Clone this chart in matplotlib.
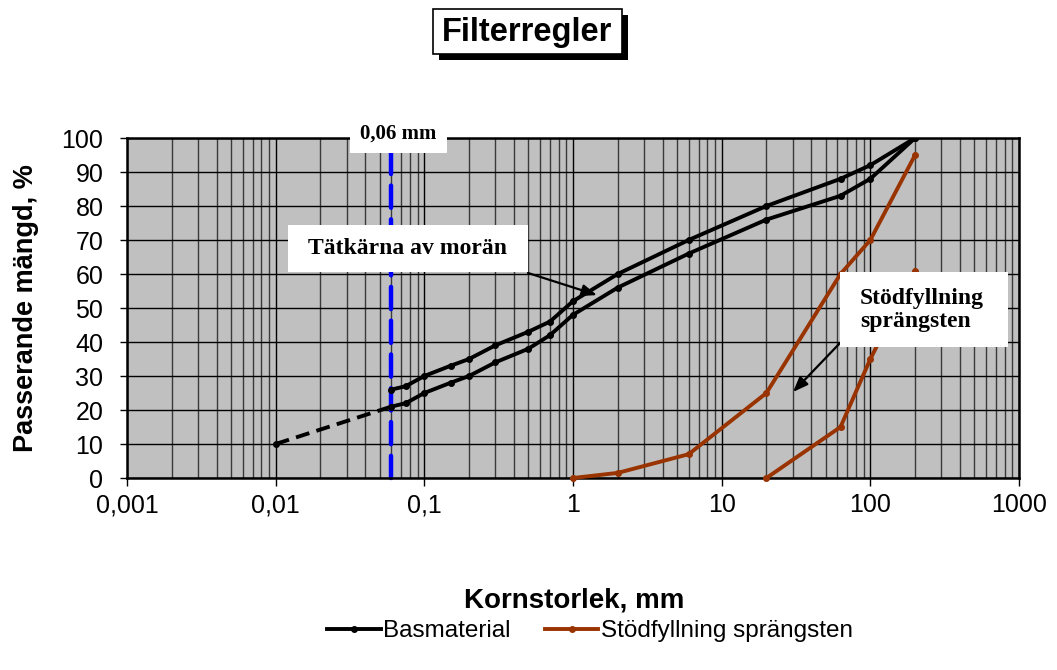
import matplotlib
matplotlib.use("Agg")
import matplotlib.pyplot as plt
from matplotlib.patches import Rectangle
from matplotlib.ticker import FixedLocator, LogLocator, NullFormatter

# ---- data ----
bas_upper_x = [0.06, 0.075, 0.1, 0.15, 0.2, 0.3, 0.5, 0.7, 1.0, 2, 6, 20, 63, 100, 200]
bas_upper_y = [26, 27, 30, 33, 35, 39, 43, 46, 52, 60, 70, 80, 88, 92, 100]
bas_lower_x = [0.06, 0.075, 0.1, 0.15, 0.2, 0.3, 0.5, 0.7, 1.0, 2, 6, 20, 63, 100, 200]
bas_lower_y = [21, 22, 25, 28, 30, 34, 38, 42, 48, 56, 66, 76, 83, 88, 100]
bas_ext_x = [0.01, 0.06]
bas_ext_y = [10, 21]
stod_fine_x = [1, 2, 6, 20, 63, 100, 200]
stod_fine_y = [0, 1.5, 7, 25, 60, 70, 95]
stod_coarse_x = [20, 63, 100, 200]
stod_coarse_y = [0, 15, 35, 61]
limit_x = [0.06, 0.06]
limit_y = [0, 100]

xticks = [0.001, 0.01, 0.1, 1, 10, 100, 1000]
xtick_labels = ["0,001", "0,01", "0,1", "1", "10", "100", "1000"]
yticks = list(range(0, 101, 10))

title = "Filterregler"
xlabel = "Kornstorlek, mm"
ylabel = "Passerande mängd, %"
series_names = ["Basmaterial", "Stödfyllning sprängsten"]
limit_label = "0,06 mm"
core_label = "Tätkärna av morän"
fill_label = "Stödfyllning\nsprängsten"

BLACK = "black"
BROWN = "#993300"
BLUE = "#0000FF"

W, H = 1057, 670
fig = plt.figure(figsize=(W / 100, H / 100), dpi=100)
fig.patch.set_facecolor("white")


def fx(px):
    return px / W


def fy(py):
    return 1 - py / H


def box(x0, y0, x1, y1, **kw):
    fig.add_artist(Rectangle((fx(x0), fy(y1)), fx(x1) - fx(x0), fy(y0) - fy(y1),
                             transform=fig.transFigure, **kw))


L, R, T, B = 127, 1019, 138, 478
ax = fig.add_axes([fx(L), fy(B), fx(R) - fx(L), fy(T) - fy(B)])
ax.set_facecolor("#C0C0C0")
ax.set_xscale("log")
ax.set_xlim(0.001, 1000)
ax.set_ylim(0, 100)

ax.xaxis.set_major_locator(FixedLocator(xticks))
ax.set_xticklabels(xtick_labels)
ax.xaxis.set_minor_locator(LogLocator(base=10, subs=range(2, 10), numticks=100))
ax.xaxis.set_minor_formatter(NullFormatter())
ax.set_yticks(yticks)

ax.grid(True, which="major", axis="both", color="black", lw=1.0, zorder=0)
ax.grid(True, which="minor", axis="x", color="#3a3a3a", lw=1.0, zorder=0)
ax.set_axisbelow(True)
ax.tick_params(axis="x", which="major", direction="out", length=6, width=1,
               labelsize=18, pad=5)
ax.tick_params(axis="x", which="minor", length=0)
ax.tick_params(axis="y", direction="out", length=5, width=1, labelsize=18, pad=12)
for lab in ax.get_xticklabels() + ax.get_yticklabels():
    lab.set_fontfamily("Liberation Sans")
for s in ax.spines.values():
    s.set_linewidth(1.8)
    s.set_color("black")

# limit line 0,06 mm
ax.plot(limit_x, limit_y, color=BLUE, lw=3.2, dashes=(5, 2.6),
        dash_capstyle="round", zorder=2, clip_on=False)

# Basmaterial
ax.plot(bas_ext_x, bas_ext_y, color=BLACK, lw=2.8, dashes=(3.6, 1.9), zorder=3)
ax.plot(bas_ext_x[:1], bas_ext_y[:1], "o", color=BLACK, ms=4, zorder=3)
ln_bas, = ax.plot(bas_upper_x, bas_upper_y, color=BLACK, lw=2.8, marker="o", ms=4, zorder=4)
ax.plot(bas_lower_x, bas_lower_y, color=BLACK, lw=2.8, marker="o", ms=4, zorder=4)

# Stödfyllning
ln_stod, = ax.plot(stod_fine_x, stod_fine_y, color=BROWN, lw=2.8, marker="o", ms=4,
                   zorder=4, clip_on=False)
ax.plot(stod_coarse_x, stod_coarse_y, color=BROWN, lw=2.8, marker="o", ms=4,
        zorder=4, clip_on=False)

# arrows
arrow_kw = dict(arrowstyle="-|>,head_length=0.9,head_width=0.35",
                color="black", lw=1.6, shrinkA=0, shrinkB=0)
ax.annotate("", xy=(1.45, 53.8), xytext=(0.498, 60.3), arrowprops=arrow_kw, zorder=6)
ax.annotate("", xy=(30.2, 25.3), xytext=(62.5, 39.7), arrowprops=arrow_kw, zorder=6)

# annotation boxes (white, no border)
box(350, 115, 447, 153, fc="white", ec="none", lw=0)
fig.text(fx(398.5), fy(134), limit_label, ha="center", va="center", fontsize=15,
         fontweight="bold", family="Liberation Serif")
box(288, 225, 528, 272, fc="white", ec="none", lw=0)
fig.text(fx(408), fy(249), core_label, ha="center", va="center", fontsize=17,
         fontweight="bold", family="Liberation Serif")
box(840, 272, 1008, 347, fc="white", ec="none", lw=0)
fig.text(fx(860), fy(310), fill_label, ha="left", va="center", fontsize=17,
         fontweight="bold", family="Liberation Serif", linespacing=1.15)

# axis labels
fig.text(fx(574), fy(600), xlabel, ha="center", va="center", fontsize=20,
         fontweight="bold", family="Liberation Sans")
fig.text(fx(26), fy(308), ylabel, ha="center", va="center", rotation=90,
         fontsize=19.5, fontweight="bold", family="Liberation Sans")

# title box with shadow
tx0, ty0, tx1, ty1 = 433, 9, 622, 54
sh = 6
box(tx0 + sh, ty0 + sh, tx1 + sh, ty1 + sh, fc="black", ec="black", lw=0)
box(tx0, ty0, tx1, ty1, fc="white", ec="black", lw=1.2)
fig.text(fx((tx0 + tx1) / 2), fy((ty0 + ty1) / 2 + 1), title, ha="center", va="center",
         fontsize=23.5, fontweight="bold", family="Liberation Sans")

# legend
leg = fig.legend([ln_bas, ln_stod], series_names, loc="center",
                 bbox_to_anchor=(fx(590), fy(631)), ncol=2, frameon=False,
                 prop={"family": "Liberation Sans", "size": 17.5},
                 handlelength=2.2, handletextpad=0.1, columnspacing=1.4,
                 markerscale=1.0)

fig.savefig("out.png", dpi=100, facecolor="white")
